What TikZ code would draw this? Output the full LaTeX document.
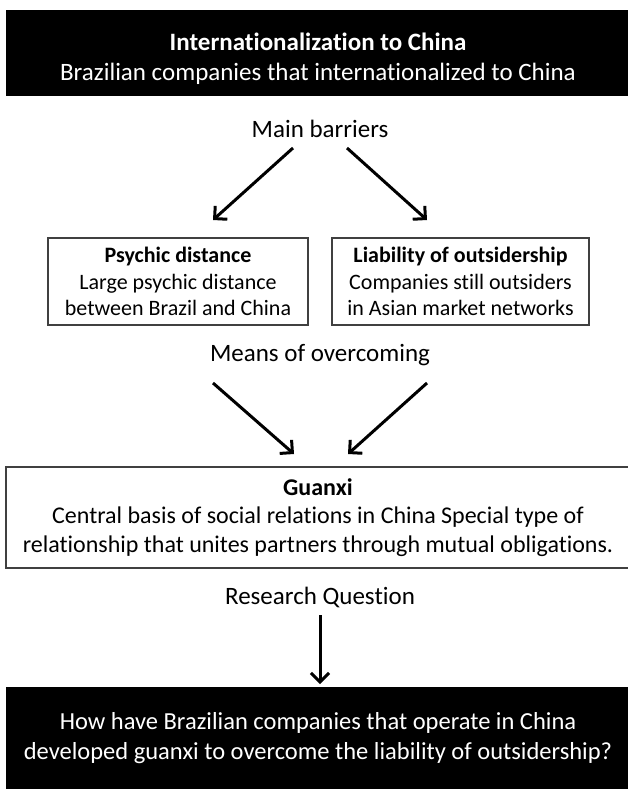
\documentclass[tikz,border=0pt]{standalone}
\usepackage{fontspec}
\setmainfont[Ligatures=NoCommon]{Carlito}
\usetikzlibrary{arrows.meta}

\begin{document}
\begin{tikzpicture}[x=1pt,y=-1pt,
                    darkND/.style={rectangle,
                                   fill=black,
                                   text=white,
                                   align=center,
                                   inner sep=0pt,
                                   font=\fontsize{25}{29.5}\selectfont},
                    boxND/.style={rectangle,
                                  draw=black!75,
                                  line width=1.2pt,
                                  align=center,
                                  inner sep=0pt,
                                  font=\fontsize{22}{26.5}\selectfont},
                    labND/.style={inner sep=0pt,
                                  font=\fontsize{25}{28}\selectfont},
                    arr/.style={line width=3pt,
                                -{Straight Barb[length=9pt,width=18pt]}}]
    \useasboundingbox (0,0) rectangle (627,789);
    % boxes
    \node[darkND, minimum width=624pt, minimum height=86pt](intl) at (318,53)
        {\rule{0pt}{29pt}\textbf{Internationalization to China}\\Brazilian companies that internationalized to China};
    \node[labND](barr) at (320,129) {Main barriers};
    \node[boxND, minimum width=260pt, minimum height=87pt](psy) at (178,281.5)
        {\textbf{Psychic distance}\\Large psychic distance\\between Brazil and China};
    \node[boxND, minimum width=257pt, minimum height=87pt](lia) at (460.5,281.5)
        {\textbf{Liability of outsidership}\\Companies still outsiders\\in Asian market networks};
    \node[labND](means) at (320,355) {Means of overcoming};
    \node[boxND, minimum width=624pt, minimum height=101pt,
          font=\fontsize{24}{28.5}\selectfont](guan) at (318,517.5)
        {\textbf{Guanxi}\\Central basis of social relations in China Special type of\\relationship that unites partners through mutual obligations.};
    \node[labND](rq) at (320,597) {Research Question};
    \node[darkND, minimum width=624pt, minimum height=102pt,
          font=\fontsize{24.5}{30.5}\selectfont](quest) at (318,738)
        {How have Brazilian companies that operate in China\\developed guanxi to overcome the liability of outsidership?};
    % arrow ends
    \coordinate (barrL) at (293,148);
    \coordinate (barrR) at (347,148);
    \coordinate (psyT)  at (213,220);
    \coordinate (liaT)  at (427,220);
    \coordinate (meansL) at (213,383);
    \coordinate (meansR) at (427,383);
    \coordinate (guanL) at (294,454);
    \coordinate (guanR) at (348,454);
    \coordinate (rqB)   at (320,615);
    \coordinate (questT) at (320,684);
    \path
        (barrL)  edge [arr] (psyT)
        (barrR)  edge [arr] (liaT)
        (meansL) edge [arr] (guanL)
        (meansR) edge [arr] (guanR)
        (rqB)    edge [arr] (questT)
        ;
\end{tikzpicture}
\end{document}
